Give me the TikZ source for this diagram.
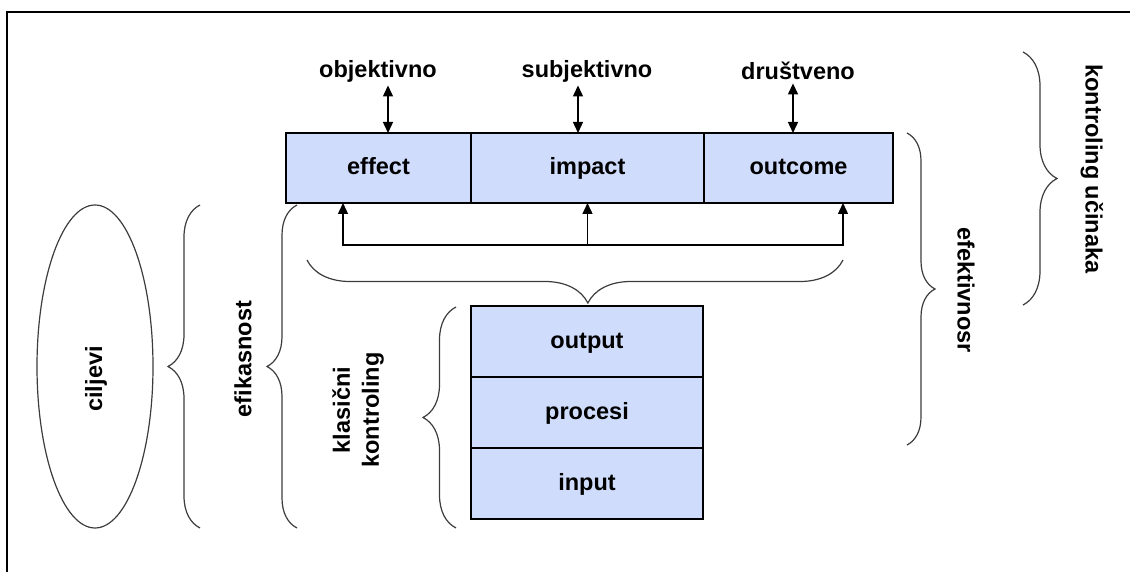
\documentclass[tikz,border=0pt]{standalone}
\usepackage{fontspec}
\setmainfont{Liberation Sans}
\usetikzlibrary{positioning,arrows.meta,decorations.pathreplacing,shapes.geometric}
\definecolor{boxblue}{RGB}{207,220,252}
\definecolor{bracegray}{RGB}{60,60,60}
\tikzset{
  lbl/.style={font=\fontsize{23.5}{29}\selectfont\bfseries},
  cell/.style={draw, line width=1.4pt, fill=boxblue, outer sep=0pt, minimum height=70pt, text height=17pt, text depth=3pt, lbl},
  dblarrow/.style={{Triangle[length=11pt,width=10pt]}-{Triangle[length=11pt,width=10pt]}, line width=1.4pt},
  uparrow/.style={-{Triangle[length=11pt,width=10pt]}, line width=1.4pt},
  curly/.style={decorate, decoration={brace, amplitude=#1}, draw=bracegray, line width=1.2pt},
}
\begin{document}
\begin{tikzpicture}[x=1pt,y=-1pt]
	\useasboundingbox (0,0) rectangle (1130,572);
	\draw[line width=1.3pt] (7,12) rectangle (1145,590);
	% top row
	\node[cell, minimum width=185pt] (effect) at (378.5,168) {effect};
	\node[cell, minimum width=233pt, right=0pt of effect] (impact) {impact};
	\node[cell, minimum width=189pt, right=0pt of impact] (outcome) {outcome};
	\node[lbl] (objektivno)  at (378,71) {objektivno};
	\node[lbl] (subjektivno) at (587,71) {subjektivno};
	\node[lbl] (drustveno)   at (798,71) {društveno};
	\draw[dblarrow] ([xshift=9.5pt]effect.north)  -- ([xshift=9.5pt]effect.north |- objektivno.south);
	\draw[dblarrow] ([xshift=-9.5pt]impact.north) -- ([xshift=-9.5pt]impact.north |- subjektivno.south);
	\draw[dblarrow] ([xshift=-5.5pt]outcome.north) -- ([xshift=-5.5pt]outcome.north |- drustveno.south);
	% feedback
	\coordinate (split) at (587.5,245);
	\draw[uparrow] (split) -| ([xshift=-35.5pt]effect.south);
	\draw[uparrow] (split) -- (impact.south);
	\draw[uparrow] (split) -| ([xshift=44.5pt]outcome.south);
	% stack
	\node[cell, minimum width=232pt, minimum height=71pt] (output) at (587,341.5) {output};
	\node[cell, minimum width=232pt, minimum height=71pt, below=0pt of output] (procesi) {procesi};
	\node[cell, minimum width=232pt, minimum height=71pt, below=0pt of procesi] (input) {input};
	\draw[curly=43pt, decoration={aspect=0.476}] (843,260) -- (307,260);
	% left side
	\node[draw=bracegray, line width=1.2pt, ellipse, minimum width=116pt, minimum height=323pt] (goal) at (95,366.5) {};
	\node[lbl, rotate=90] (ciljevi) at (96,379) {ciljevi};
	\draw[curly=32pt] (200,528) -- (200,205);
	\node[lbl, rotate=90] (efikasnost) at (243,359) {efikasnost};
	\draw[curly=30pt] (297,528) -- (297,205);
	\node[lbl, rotate=90, align=center] (klasicni) at (358,410) {klasični\\kontroling};
	\draw[curly=33pt] (456,528) -- (456,307);
	% right side
	\draw[curly=28pt] (907,133) -- (907,445);
	\node[lbl, rotate=-90] (efektivnost) at (966,290) {efektivnosr};
	\draw[curly=34pt] (1023,52) -- (1023,305);
	\node[lbl, rotate=-90] (ucinak) at (1092,169) {kontroling učinaka};
\end{tikzpicture}
\end{document}
